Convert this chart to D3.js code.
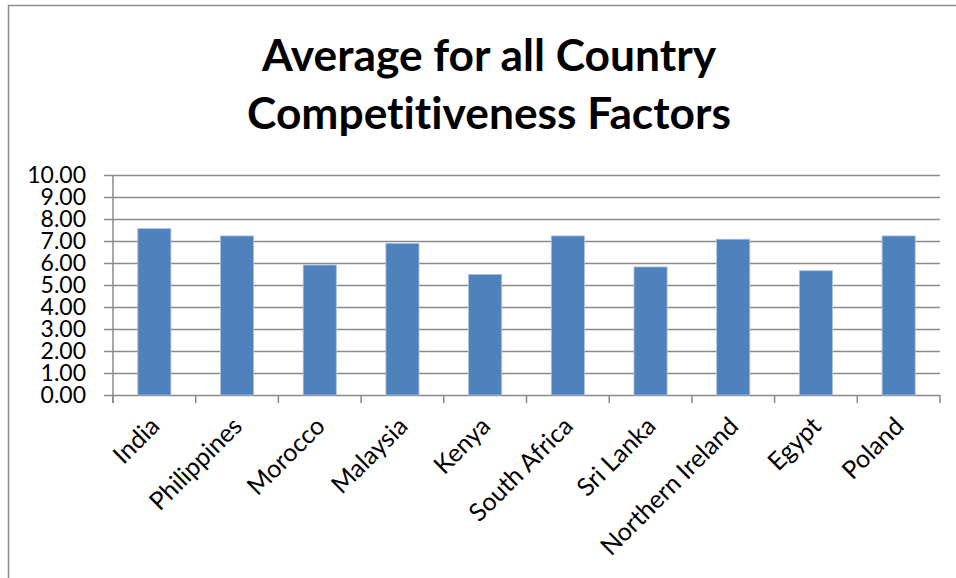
<!DOCTYPE html>
<html>
<head>
<meta charset="utf-8">
<script src="https://cdn.jsdelivr.net/npm/d3@7"></script>
<style>
  html, body { margin: 0; padding: 0; background: #fff; }
  svg { display: block; }
  text { font-family: Lato, "Open Sans", "Liberation Sans", sans-serif; fill: #000; font-variant-ligatures: none; }
</style>
</head>
<body>
<svg id="chart" width="956" height="578"></svg>
<script>
// Chart data
const titleLines = ["Average for all Country", "Competitiveness Factors"];
const countries = ["India", "Philippines", "Morocco", "Malaysia", "Kenya",
                   "South Africa", "Sri Lanka", "Northern Ireland", "Egypt", "Poland"];
const averages = [7.56, 7.23, 5.91, 6.89, 5.48, 7.23, 5.82, 7.08, 5.65, 7.23];
const yTicks = [0, 1, 2, 3, 4, 5, 6, 7, 8, 9, 10];

const svg = d3.select("#chart");
const W = 956, H = 578;
const plot = { left: 113, right: 940, top: 175, bottom: 395 };
const gridColor = "#8a8a8a";
const barColor = "#4f81bd";

// outer chart frame (runs off the right and bottom of the page)
svg.append("rect")
  .attr("x", 8.5).attr("y", 5.5)
  .attr("width", W + 20).attr("height", H + 20)
  .attr("fill", "#fff")
  .attr("stroke", "#8c8c8c").attr("stroke-width", 1.5);

// title, sized so the longer line fills its width
const title = svg.append("g");
const tl = title.selectAll("text").data(titleLines).join("text")
  .attr("x", 489)
  .attr("y", (d, i) => 71 + i * 57.7)
  .attr("text-anchor", "middle")
  .attr("font-weight", 700)
  .attr("font-size", 40)
  .text(d => d);
const widest = d3.max(tl.nodes(), n => n.getComputedTextLength());
tl.attr("font-size", 40 * 484 / widest);

const x = d3.scaleBand()
  .domain(countries)
  .range([plot.left, plot.right])
  .paddingInner(0.6)
  .paddingOuter(0.3);

const y = d3.scaleLinear()
  .domain([0, 10])
  .range([plot.bottom, plot.top]);

// horizontal gridlines, extending left of the axis as tick marks
svg.append("g")
  .attr("transform", `translate(${plot.left},0)`)
  .call(d3.axisLeft(y)
    .tickValues(yTicks)
    .tickSize(-(plot.right - plot.left))
    .tickSizeOuter(0)
    .tickFormat(""))
  .call(g => g.select(".domain").remove())
  .call(g => g.selectAll(".tick line")
    .attr("x1", -9)
    .attr("stroke", gridColor)
    .attr("stroke-width", 1.5));

// y tick labels
svg.append("g")
  .selectAll("text")
  .data(yTicks)
  .join("text")
  .attr("x", 86)
  .attr("y", d => y(d))
  .attr("dy", "0.36em")
  .attr("text-anchor", "end")
  .attr("font-size", 23)
  .text(d => d3.format(".2f")(d));

// vertical axis line
svg.append("line")
  .attr("x1", plot.left).attr("x2", plot.left)
  .attr("y1", y(10)).attr("y2", plot.bottom + 8)
  .attr("stroke", gridColor).attr("stroke-width", 1.5);

// category boundary ticks below the baseline
const boundaries = d3.range(countries.length + 1).map(i => plot.left + i * (plot.right - plot.left) / countries.length);
svg.append("g")
  .selectAll("line")
  .data(boundaries)
  .join("line")
  .attr("x1", d => d).attr("x2", d => d)
  .attr("y1", plot.bottom).attr("y2", plot.bottom + 8)
  .attr("stroke", gridColor).attr("stroke-width", 1.5);

// bars
svg.append("g")
  .selectAll("rect")
  .data(countries)
  .join("rect")
  .attr("x", d => x(d))
  .attr("width", x.bandwidth())
  .attr("y", (d, i) => y(averages[i]))
  .attr("height", (d, i) => y(0) - y(averages[i]))
  .attr("fill", barColor)
  .attr("stroke", "#a9c0de")
  .attr("stroke-width", 0.8);

// rotated category labels
svg.append("g")
  .selectAll("text")
  .data(countries)
  .join("text")
  .attr("text-anchor", "end")
  .attr("font-size", 25)
  .attr("transform", d => `translate(${x(d) + x.bandwidth() / 2 - 6},${plot.bottom + 20}) rotate(-45)`)
  .attr("dy", "0.72em")
  .text(d => d);
</script>
</body>
</html>
